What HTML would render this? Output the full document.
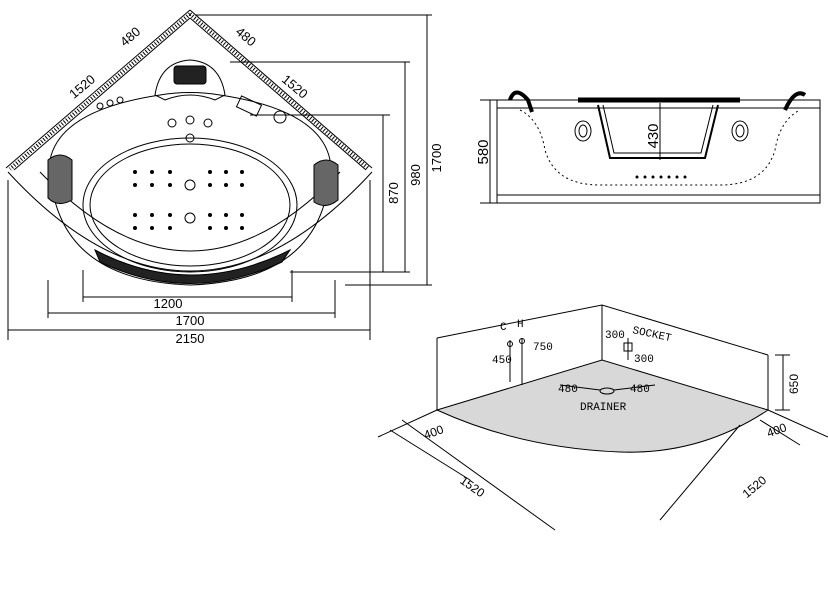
<!DOCTYPE html>
<html><head><meta charset="utf-8"><style>
html,body{margin:0;padding:0;background:#fff;}
svg{display:block;font-family:"Liberation Sans",sans-serif;}
.m{font-family:"Liberation Mono",monospace;}
</style></head><body>
<svg width="828" height="593" viewBox="0 0 828 593" xmlns="http://www.w3.org/2000/svg" fill="none" stroke="#000" stroke-width="1">
<!-- ===== Top-left plan view ===== -->
<g>
<!-- outer edges -->
<path d="M190 10 L6 168"/><path d="M190 10 L372 168"/>
<path d="M190 18 L14 170"/><path d="M190 18 L366 170"/>
<!-- hatch ticks -->
<path d="M190 14 L10 169 M190 14 L369 169" stroke-dasharray="1 2" stroke-width="4"/>
<!-- front curve -->
<path d="M8 172 Q190 370 372 172"/>
<path d="M40 172 Q190 330 340 172"/>
<!-- inner rim -->
<path d="M50 160 Q60 110 160 95 Q190 90 220 95 Q320 110 330 160 Q330 280 190 285 Q50 280 50 160Z"/>
<ellipse cx="190" cy="205" rx="107" ry="67"/>
<ellipse cx="190" cy="205" rx="100" ry="61"/>
<!-- bottom dark band -->
<path d="M95 250 Q190 300 290 250 L282 262 Q190 305 100 262Z" fill="#222"/>
<!-- headrest -->
<path d="M155 95 Q160 62 190 60 Q220 62 225 95 L215 100 Q190 90 165 100Z"/>
<rect x="174" y="66" width="32" height="18" rx="3" fill="#222"/>
<!-- pillows -->
<path d="M48 160 Q60 150 72 160 L72 200 Q58 208 48 198Z" fill="#666"/>
<path d="M314 165 Q326 155 338 165 L338 200 Q326 210 314 202Z" fill="#666"/>
<!-- jets -->
<g fill="#000" stroke="none">
<circle cx="135" cy="172" r="2"/><circle cx="152" cy="172" r="2"/><circle cx="170" cy="172" r="2"/><circle cx="210" cy="172" r="2"/><circle cx="226" cy="172" r="2"/><circle cx="242" cy="172" r="2"/>
<circle cx="135" cy="185" r="2"/><circle cx="152" cy="185" r="2"/><circle cx="170" cy="185" r="2"/><circle cx="210" cy="185" r="2"/><circle cx="226" cy="185" r="2"/><circle cx="242" cy="185" r="2"/>
<circle cx="135" cy="215" r="2"/><circle cx="152" cy="215" r="2"/><circle cx="170" cy="215" r="2"/><circle cx="210" cy="215" r="2"/><circle cx="226" cy="215" r="2"/><circle cx="242" cy="215" r="2"/>
<circle cx="135" cy="228" r="2"/><circle cx="152" cy="228" r="2"/><circle cx="170" cy="228" r="2"/><circle cx="210" cy="228" r="2"/><circle cx="226" cy="228" r="2"/><circle cx="242" cy="228" r="2"/>
</g>
<circle cx="190" cy="185" r="5"/><circle cx="190" cy="218" r="5"/>
<circle cx="172" cy="123" r="4"/><circle cx="190" cy="120" r="4"/><circle cx="208" cy="123" r="4"/><circle cx="190" cy="138" r="4"/>
<circle cx="100" cy="106" r="3"/><circle cx="110" cy="103" r="3"/><circle cx="120" cy="100" r="3"/>
<circle cx="280" cy="117" r="6"/><rect x="238" y="100" width="22" height="12" transform="rotate(25 249 106)"/>
<!-- dimension lines -->
<path d="M83 297 H292 M48 313 H335 M8 330 H370"/>
<path d="M83 270 V302 M292 270 V302 M48 280 V318 M335 280 V318 M8 180 V340 M370 180 V340"/>
<path d="M383 115 V272 M405 62 V272 M427 15 V285"/>
<path d="M250 115 H390 M230 62 H410 M195 15 H432 M290 272 H410 M345 285 H432"/>
</g>
<g fill="#000" stroke="none" font-size="13">
<text x="168" y="308" text-anchor="middle">1200</text>
<text x="190" y="325" text-anchor="middle">1700</text>
<text x="190" y="343" text-anchor="middle">2150</text>
<text transform="translate(398 193) rotate(-90)" text-anchor="middle">870</text>
<text transform="translate(420 175) rotate(-90)" text-anchor="middle">980</text>
<text transform="translate(441 158) rotate(-90)" text-anchor="middle">1700</text>
<text transform="translate(133 40) rotate(-40)" text-anchor="middle">480</text>
<text transform="translate(243 40) rotate(40)" text-anchor="middle">480</text>
<text transform="translate(85 90) rotate(-40)" text-anchor="middle">1520</text>
<text transform="translate(292 90) rotate(40)" text-anchor="middle">1520</text>
</g>
<!-- ===== Side view ===== -->
<g>
<rect x="497" y="100" width="323" height="103"/>
<path d="M497 108 H820 M497 195 H820"/>
<path d="M578 100 H740" stroke-width="5"/>
<path d="M598 105 L610 158 H705 L718 105" stroke-width="2"/>
<path d="M603 105 L614 153 H701 L713 105"/>
<path d="M520 110 Q540 120 545 150 Q555 185 600 185 H720 Q765 185 775 150 Q780 120 800 110" stroke-dasharray="2 3"/>
<ellipse cx="583" cy="131" rx="8" ry="10"/><ellipse cx="583" cy="131" rx="4" ry="6"/>
<ellipse cx="740" cy="131" rx="8" ry="10"/><ellipse cx="740" cy="131" rx="4" ry="6"/>
<path d="M510 100 Q515 85 528 100 L532 112" stroke-width="4"/>
<path d="M785 110 Q795 88 805 95" stroke-width="4"/>
<path d="M660 103 V160"/>
<path d="M480 100 H497 M480 203 H497 M490 100 V203"/>
</g>
<g fill="#000" stroke="none" font-size="15">
<circle cx="637" cy="177" r="1.5"/><circle cx="645" cy="177" r="1.5"/><circle cx="653" cy="177" r="1.5"/><circle cx="661" cy="177" r="1.5"/><circle cx="669" cy="177" r="1.5"/><circle cx="677" cy="177" r="1.5"/><circle cx="685" cy="177" r="1.5"/>
<text transform="translate(488 152) rotate(-90)" text-anchor="middle">580</text>
<text transform="translate(658 136) rotate(-90)" text-anchor="middle">430</text>
</g>
<!-- ===== 3D view ===== -->
<g>
<path d="M437 410 L602 360 L768 410 Q700 455 620 452 Q520 448 437 410Z" fill="#d8d8d8"/>
<path d="M437 338 L602 305 L768 355 M437 338 V410 M602 305 V360 M768 355 V410"/>
<path d="M378 437 L437 410 M768 410 L828 437 M402 420 L555 530 M390 430 L470 480 M740 425 L660 520 M760 420 L800 445"/>
<path d="M510 340 V382 M522 338 V385 M628 338 V360"/>
<path d="M775 355 H790 M775 410 H790 M783 355 V410"/>
<ellipse cx="607" cy="391" rx="7" ry="3"/>
<path d="M560 385 L600 390 M614 390 L655 385"/>
<circle cx="510" cy="344" r="2.5"/><circle cx="522" cy="341" r="2.5"/>
<rect x="624" y="343" width="8" height="8"/>
</g>
<g class="m" fill="#000" stroke="none" font-size="11">
<text x="500" y="330">C</text><text x="517" y="327">H</text>
<text x="492" y="363">450</text><text x="533" y="350">750</text>
<text x="605" y="338">300</text><text x="634" y="362">300</text>
<text transform="translate(632 333) rotate(12)">SOCKET</text>
<text x="558" y="392">480</text><text x="630" y="392">480</text>
<text x="580" y="410">DRAINER</text>
</g>
<g fill="#000" stroke="none" font-size="12">
<text transform="translate(435 436) rotate(-20)" text-anchor="middle">400</text>
<text transform="translate(778 434) rotate(-20)" text-anchor="middle">400</text>
<text transform="translate(470 490) rotate(35)" text-anchor="middle">1520</text>
<text transform="translate(757 490) rotate(-40)" text-anchor="middle">1520</text>
<text transform="translate(798 384) rotate(-90)" text-anchor="middle">650</text>
</g>
</svg>
</body></html>
